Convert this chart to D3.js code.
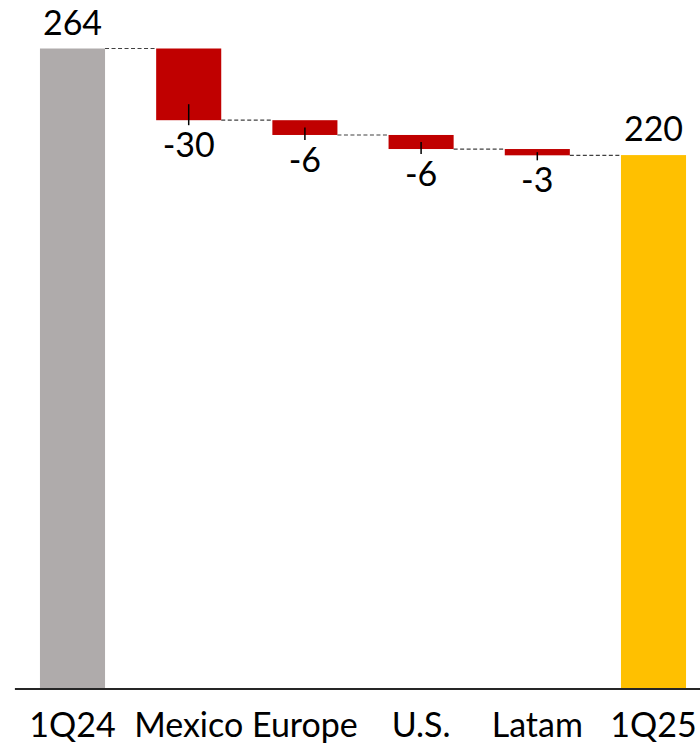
<!DOCTYPE html>
<html>
<head>
<meta charset="utf-8">
<script src="https://cdn.jsdelivr.net/npm/d3@7"></script>
<style>
  body { margin: 0; background: #fff; }
  svg { display: block; font-family: Lato, "Open Sans", sans-serif; }
</style>
</head>
<body>
<svg></svg>
<script>
var categories = ["1Q24", "Mexico", "Europe", "U.S.", "Latam", "1Q25"];
var values = [264, -29.6, -6.1, -5.8, -2.6, 220];
var kinds = ["total", "delta", "delta", "delta", "delta", "total"];

var svgWidth = 700, svgHeight = 744;
var colors = { start: "#AFABAB", delta: "#C00000", end: "#FFC000" };

var svg = d3.select("svg")
    .attr("width", svgWidth)
    .attr("height", svgHeight);

// running levels for the waterfall
var level = 0;
var bars = values.map(function(v, i) {
    var b;
    if (kinds[i] == "total") {
        b = { cat: categories[i], v: v, lo: 0, hi: v, kind: i == 0 ? "start" : "end" };
        level = v;
    } else {
        b = { cat: categories[i], v: v, lo: level + v, hi: level, kind: "delta" };
        level = level + v;
    }
    return b;
});

var x = d3.scaleBand()
    .domain(categories)
    .range([14.4, 711.6])
    .paddingInner(0.44)
    .paddingOuter(0.22);

var y = d3.scaleLinear()
    .domain([0, 264])
    .range([688, 48.5]);

// dashed connectors
svg.selectAll("line.conn")
    .data(bars.slice(0, -1))
    .enter()
    .append("line")
    .attr("class", "conn")
    .attr("x1", (d) => x(d.cat) + x.bandwidth())
    .attr("x2", (d, i) => x(categories[i + 1]))
    .attr("y1", (d) => d.kind == "delta" ? y(d.lo) : y(d.hi))
    .attr("y2", (d) => d.kind == "delta" ? y(d.lo) : y(d.hi))
    .attr("stroke", "#404040")
    .attr("stroke-width", 1.2)
    .attr("stroke-dasharray", "4,2.5");

svg.selectAll("rect")
    .data(bars)
    .enter()
    .append("rect")
    .attr("x", (d) => x(d.cat))
    .attr("width", x.bandwidth())
    .attr("y", (d) => y(d.hi))
    .attr("height", (d) => y(d.lo) - y(d.hi))
    .attr("fill", (d) => colors[d.kind]);

// small leader ticks on the negative bars
var deltas = bars.filter((d) => d.kind == "delta");
svg.selectAll("line.lead")
    .data(deltas)
    .enter()
    .append("line")
    .attr("class", "lead")
    .attr("x1", (d) => x(d.cat) + x.bandwidth() / 2)
    .attr("x2", (d) => x(d.cat) + x.bandwidth() / 2)
    .attr("y1", (d) => Math.max((y(d.lo) + y(d.hi)) / 2, y(d.lo) - 16))
    .attr("y2", (d) => y(d.lo) + 5)
    .attr("stroke", "#000")
    .attr("stroke-width", 1.5);

svg.selectAll("text.val")
    .data(bars)
    .enter()
    .append("text")
    .attr("class", "val")
    .attr("x", (d) => x(d.cat) + x.bandwidth() / 2)
    .attr("y", (d) => d.kind == "delta" ? y(d.lo) + 37 : y(d.hi) - 14)
    .attr("text-anchor", "middle")
    .attr("font-size", 34)
    .attr("fill", "#000")
    .text((d) => Math.round(d.v));

var axis = svg.append("g")
    .attr("transform", "translate(0," + 688.5 + ")")
    .call(d3.axisBottom(x).tickSize(0).tickSizeOuter(0).tickPadding(24.5));

axis.select(".domain")
    .attr("stroke", "#262626")
    .attr("stroke-width", 2);

axis.selectAll("text")
    .attr("font-size", 34)
    .attr("font-family", "Lato, 'Open Sans', sans-serif")
    .attr("fill", "#000");
</script>
</body>
</html>
